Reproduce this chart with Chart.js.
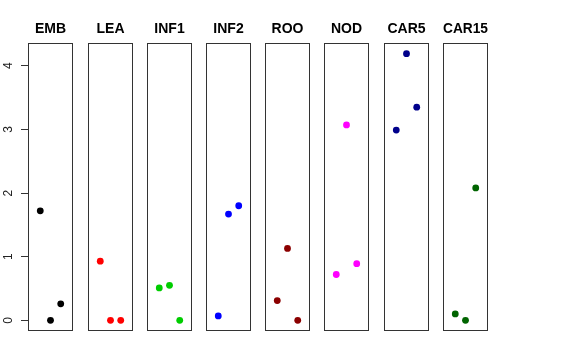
<!DOCTYPE html>
<html><head><meta charset="utf-8">
<script src="https://cdn.jsdelivr.net/npm/chart.js@4"></script>
<style>
html,body{margin:0;padding:0;background:#fff;width:576px;height:360px;overflow:hidden;}
canvas.p{position:absolute;top:0;}
</style></head><body>
<script>
// ---- data ----
const categories = ['EMB','LEA','INF1','INF2','ROO','NOD','CAR5','CAR15'];
const replicates = [1, 2, 3];
const EMB   = [1.72, 0.00, 0.26];
const LEA   = [0.93, 0.00, 0.00];
const INF1  = [0.51, 0.55, 0.00];
const INF2  = [0.07, 1.67, 1.80];
const ROO   = [0.31, 1.13, 0.00];
const NOD   = [0.72, 3.07, 0.89];
const CAR5  = [2.99, 4.19, 3.35];
const CAR15 = [0.10, 0.00, 2.08];
const yTicks = [0, 1, 2, 3, 4];
const seriesValues = [EMB, LEA, INF1, INF2, ROO, NOD, CAR5, CAR15];

// ---- styles / layout ----
const colors = ['#000000','#FF0000','#00CD00','#0000FF','#8B0000','#FF00FF','#00008B','#006400'];
const FIRST_LEFT = 28.3, BOX_W = 45, STEP = 59.23, TOP = 43, BOTTOM = 331, PAD = 3, CANVAS_H = 336;
const AXIS_W = Math.round(FIRST_LEFT);
const FONT = '"Liberation Sans", Arial, sans-serif';

const allVals = seriesValues.flat();
const dMin = Math.min(...allVals), dMax = Math.max(...allVals);
const ext = (dMax - dMin) * 0.04;
const yMin = dMin - ext, yMax = dMax + ext;
const xMin = 0 - 4 * 0.04, xMax = 4 + 4 * 0.04;

const boxPlugin = {
  id: 'box',
  afterDraw(chart) {
    const a = chart.chartArea, ctx = chart.ctx;
    ctx.save();
    ctx.strokeStyle = '#333';
    ctx.lineWidth = 1;
    ctx.strokeRect(Math.round(a.left) + 0.5, Math.round(a.top) + 0.5,
                   Math.round(a.right - a.left), Math.round(a.bottom - a.top) - 1);
    ctx.restore();
  }
};

function makeCanvas(left, w) {
  const cv = document.createElement('canvas');
  cv.className = 'p';
  cv.width = w; cv.height = CANVAS_H;
  cv.style.width = w + 'px'; cv.style.height = CANVAS_H + 'px';
  cv.style.left = left + 'px';
  document.body.appendChild(cv);
  return cv;
}

// y axis (left of first panel)
{
  const w = AXIS_W + 10;
  const cv = makeCanvas(0, w);
  new Chart(cv, {
    type: 'scatter',
    data: { datasets: [{ data: [] }] },
    options: {
      responsive: false, animation: false, devicePixelRatio: 1, events: [],
      layout: { padding: { left: 0, right: 3, top: TOP, bottom: CANVAS_H - BOTTOM } },
      plugins: { legend: { display: false }, tooltip: { enabled: false } },
      scales: {
        x: { type: 'linear', min: xMin, max: xMax, display: false },
        y: {
          type: 'linear', min: yMin, max: yMax,
          afterFit: s => { s.width = AXIS_W; s.paddingTop = 0; s.paddingBottom = 0; },
          afterBuildTicks: s => { s.ticks = yTicks.map(v => ({ value: v })); },
          grid: { drawOnChartArea: false, drawTicks: true, tickLength: 7, color: '#333', lineWidth: 1 },
          border: { display: false },
          ticks: {
            minRotation: 90, maxRotation: 90, crossAlign: 'center', padding: 9,
            color: '#222', font: { family: FONT, size: 12 },
            callback: v => String(v)
          }
        }
      }
    }
  });
}

categories.forEach((cat, i) => {
  const boxLeft = Math.round(FIRST_LEFT + i * STEP);
  const w = BOX_W + 2 * PAD;
  const cv = makeCanvas(boxLeft - PAD, w);
  const vals = seriesValues[i];
  new Chart(cv, {
    type: 'scatter',
    data: {
      datasets: [{
        data: replicates.map((x, j) => ({ x: x, y: vals[j] })),
        backgroundColor: colors[i], borderColor: colors[i],
        borderWidth: 0, pointRadius: 3.4, pointHoverRadius: 3.4
      }]
    },
    options: {
      responsive: false, animation: false, devicePixelRatio: 1, events: [],
      layout: { padding: { left: PAD, right: PAD, top: 0, bottom: CANVAS_H - BOTTOM } },
      plugins: {
        legend: { display: false },
        tooltip: { enabled: false },
        title: {
          display: true, text: cat, color: '#000',
          font: { family: FONT, size: 14, weight: 'bold', lineHeight: 1.2 },
          padding: { top: 20.6, bottom: 5.6 }
        }
      },
      scales: {
        x: { type: 'linear', min: xMin, max: xMax, display: false },
        y: { type: 'linear', min: yMin, max: yMax, display: false }
      }
    },
    plugins: [boxPlugin]
  });
});
</script>
</body></html>
